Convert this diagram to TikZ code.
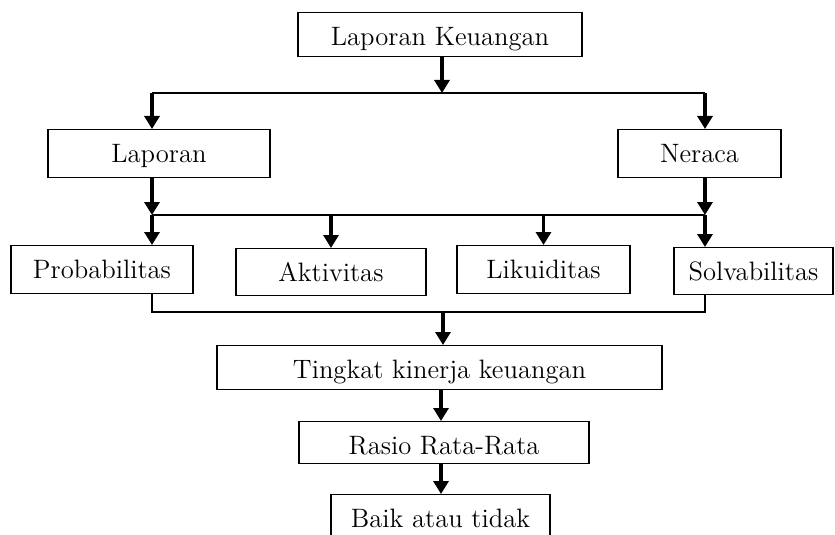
\documentclass[tikz,border=0pt]{standalone}
\usepackage{tikz}
\usetikzlibrary{positioning, arrows.meta}

\begin{document}
\begin{tikzpicture}[
x=0.5pt, y=-0.5pt,
kotak/.style={rectangle,
  draw=black,
  line width=0.7pt,
  inner sep=0pt,
  anchor=north,
  align=center,
  text height=16.5pt,
  font=\fontsize{13.3}{15}\selectfont
},
garis/.style={line width=0.8pt},
panah/.style={-{Triangle[length=6.5pt,width=7.5pt]}, line width=1.6pt},
]
\useasboundingbox (0,0) rectangle (835,535);
\clip (0,0) rectangle (835,535);

\node[kotak, minimum width=142pt, text depth=5.5pt] (lk) at (440,12)
    {Laporan Keuangan};
\node[kotak, minimum width=111pt, text depth=7.5pt] (lap) at (159,129)
    {Laporan};
\node[kotak, minimum width=81.5pt, text depth=7.5pt] (ner) at (699.5,129)
    {Neraca};
\node[kotak, minimum width=91pt, text depth=7.5pt] (prob) at (102,245)
    {Probabilitas};
\node[kotak, minimum width=95pt, text depth=7pt] (akt) at (331,248)
    {Aktivitas};
\node[kotak, minimum width=86.5pt, text depth=7.5pt] (lik) at (543.5,245)
    {Likuiditas};
\node[kotak, minimum width=79.5pt, text depth=7pt] (sol) at (753.5,247)
    {Solvabilitas};
\node[kotak, minimum width=222.5pt, text depth=5.5pt] (ting) at (439.5,345)
    {Tingkat kinerja keuangan};
\node[kotak, minimum width=145pt, text depth=4.5pt] (ras) at (444,421)
    {Rasio Rata-Rata};
\node[kotak, minimum width=109.5pt, text depth=7pt] (baik) at (440.5,494)
    {Baik atau tidak};

% titik cabang
\coordinate (c1) at (442,93);
\coordinate (c1k) at (152,93);
\coordinate (c1n) at (705,93);
\coordinate (c2k) at (152,215);
\coordinate (c2n) at (705,215);
\coordinate (c3) at (443,312);
\coordinate (c3k) at (152,312);
\coordinate (c3n) at (705,312);

\draw[panah] (lk.south -| c1) -- (c1);
\draw[garis] (c1k) -- (c1n);
\draw[panah] (c1k) -- (lap.north -| c1k);
\draw[panah] (c1n) -- (ner.north -| c1n);

\draw[panah] (lap.south -| c2k) -- (c2k);
\draw[panah] (ner.south -| c2n) -- (c2n);
\draw[garis] (c2k) -- (c2n);
\draw[panah] (c2k) -- (prob.north -| c2k);
\draw[panah] (c2k -| akt) -- (akt.north);
\draw[panah] (c2k -| lik) -- (lik.north);
\draw[panah] (c2n) -- (sol.north -| c2n);

\draw[garis] (prob.south -| c3k) -- (c3k) -- (c3n) -- (sol.south -| c3n);
\draw[panah] (c3) -- (ting.north -| c3);

\draw[panah] (ting.south -| 441,0) -- (ras.north -| 441,0);
\draw[panah] (ras.south -| 441,0) -- (baik.north -| 441,0);
\end{tikzpicture}
\end{document}
